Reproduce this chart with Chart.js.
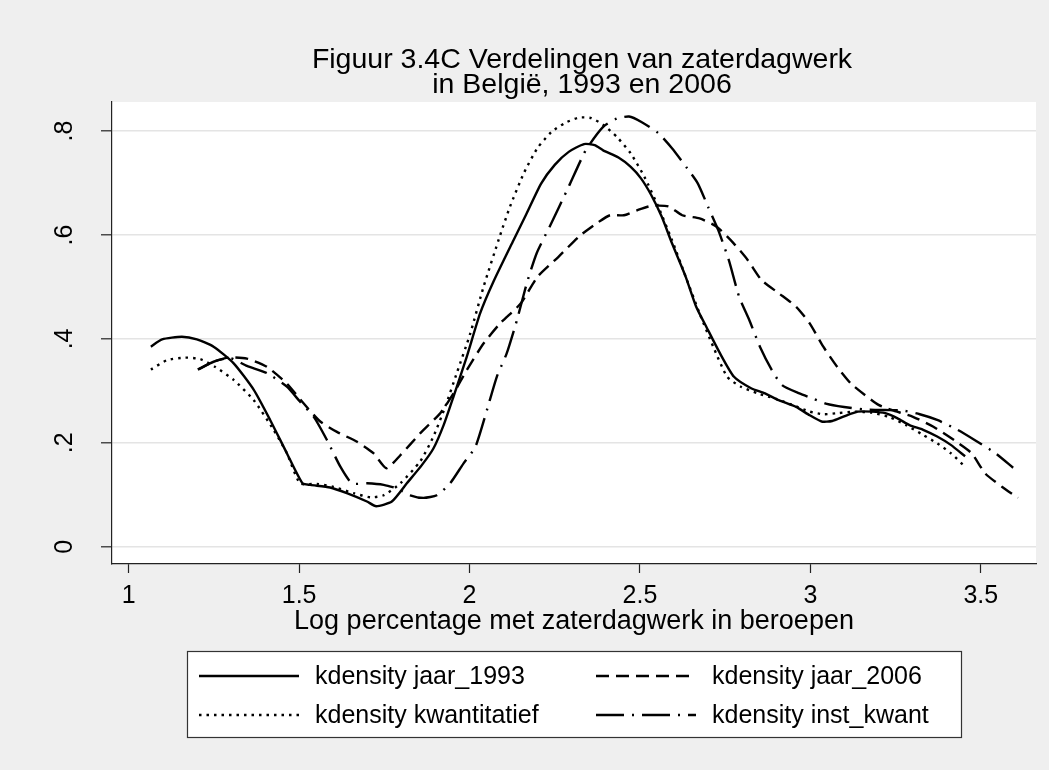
<!DOCTYPE html>
<html>
<head>
<meta charset="utf-8">
<title>Verdelingen van zaterdagwerk</title>
<script src="https://cdn.jsdelivr.net/npm/chart.js@4/dist/chart.umd.min.js"></script>
<style>
  html, body { margin: 0; padding: 0; background: #efefef; }
  #wrap { width: 1049px; height: 770px; }
</style>
</head>
<body>
<div id="wrap"><canvas id="chart" width="1049" height="770"></canvas></div>
<script>
// kernel density estimates, log share of saturday work per occupation
const x1993 = [1.065, 1.098, 1.156, 1.20, 1.249, 1.308, 1.367, 1.415, 1.464, 1.510, 1.533, 1.591, 1.640, 1.699, 1.726, 1.772, 1.816, 1.860, 1.894, 1.924, 1.953, 1.992, 2.031, 2.070, 2.129, 2.165, 2.210, 2.250, 2.291, 2.336, 2.367, 2.392, 2.437, 2.473, 2.503, 2.533, 2.564, 2.594, 2.634, 2.665, 2.695, 2.735, 2.776, 2.826, 2.867, 2.907, 2.958, 2.998, 3.033, 3.064, 3.099, 3.139, 3.180, 3.220, 3.256, 3.291, 3.331, 3.372, 3.412, 3.454];
const y1993 = [0.385, 0.399, 0.404, 0.399, 0.385, 0.353, 0.302, 0.244, 0.180, 0.122, 0.119, 0.114, 0.103, 0.087, 0.078, 0.087, 0.122, 0.157, 0.189, 0.234, 0.289, 0.366, 0.449, 0.510, 0.590, 0.638, 0.699, 0.735, 0.760, 0.775, 0.773, 0.763, 0.749, 0.731, 0.709, 0.677, 0.635, 0.584, 0.520, 0.462, 0.423, 0.372, 0.327, 0.305, 0.295, 0.282, 0.269, 0.253, 0.241, 0.242, 0.251, 0.260, 0.260, 0.257, 0.247, 0.234, 0.225, 0.212, 0.196, 0.174];

const x2006 = [1.203, 1.249, 1.293, 1.347, 1.406, 1.464, 1.513, 1.562, 1.611, 1.670, 1.718, 1.756, 1.797, 1.855, 1.914, 1.953, 1.992, 2.041, 2.090, 2.150, 2.200, 2.261, 2.321, 2.372, 2.412, 2.453, 2.493, 2.533, 2.584, 2.624, 2.675, 2.725, 2.775, 2.816, 2.857, 2.907, 2.958, 2.998, 3.038, 3.079, 3.119, 3.160, 3.200, 3.240, 3.301, 3.361, 3.422, 3.473, 3.513, 3.563, 3.609];
const y2006 = [0.341, 0.356, 0.364, 0.362, 0.346, 0.314, 0.276, 0.241, 0.221, 0.202, 0.180, 0.151, 0.176, 0.218, 0.257, 0.295, 0.340, 0.391, 0.430, 0.468, 0.520, 0.558, 0.597, 0.622, 0.638, 0.638, 0.648, 0.656, 0.655, 0.638, 0.632, 0.616, 0.584, 0.552, 0.513, 0.488, 0.462, 0.430, 0.385, 0.346, 0.314, 0.292, 0.273, 0.263, 0.250, 0.231, 0.205, 0.180, 0.141, 0.115, 0.094];

const xKwant = [1.065, 1.112, 1.166, 1.210, 1.254, 1.308, 1.367, 1.425, 1.464, 1.503, 1.552, 1.601, 1.660, 1.709, 1.748, 1.797, 1.855, 1.894, 1.929, 1.963, 2.002, 2.041, 2.090, 2.119, 2.160, 2.200, 2.240, 2.281, 2.321, 2.357, 2.392, 2.432, 2.473, 2.513, 2.554, 2.594, 2.634, 2.675, 2.715, 2.756, 2.796, 2.846, 2.897, 2.947, 2.998, 3.038, 3.079, 3.129, 3.180, 3.230, 3.281, 3.331, 3.372, 3.412, 3.454];
const yKwant = [0.341, 0.359, 0.364, 0.361, 0.346, 0.321, 0.282, 0.225, 0.180, 0.122, 0.121, 0.115, 0.103, 0.095, 0.099, 0.122, 0.164, 0.212, 0.270, 0.335, 0.410, 0.500, 0.600, 0.655, 0.720, 0.768, 0.798, 0.816, 0.826, 0.825, 0.812, 0.789, 0.757, 0.712, 0.654, 0.590, 0.520, 0.449, 0.385, 0.327, 0.308, 0.295, 0.285, 0.273, 0.260, 0.255, 0.257, 0.260, 0.258, 0.250, 0.234, 0.215, 0.199, 0.180, 0.154];

const xInst = [1.203, 1.249, 1.298, 1.347, 1.406, 1.464, 1.503, 1.543, 1.582, 1.621, 1.655, 1.699, 1.748, 1.787, 1.826, 1.865, 1.904, 1.943, 1.982, 2.017, 2.051, 2.080, 2.109, 2.139, 2.168, 2.197, 2.235, 2.291, 2.341, 2.392, 2.432, 2.468, 2.503, 2.554, 2.594, 2.639, 2.670, 2.700, 2.730, 2.761, 2.791, 2.821, 2.852, 2.887, 2.917, 2.968, 3.008, 3.048, 3.099, 3.160, 3.220, 3.271, 3.321, 3.372, 3.432, 3.483, 3.543, 3.595];
const yInst = [0.341, 0.356, 0.363, 0.348, 0.334, 0.308, 0.279, 0.250, 0.205, 0.154, 0.122, 0.122, 0.119, 0.112, 0.099, 0.094, 0.099, 0.122, 0.160, 0.192, 0.263, 0.327, 0.372, 0.436, 0.507, 0.565, 0.616, 0.693, 0.763, 0.808, 0.824, 0.828, 0.818, 0.796, 0.767, 0.728, 0.699, 0.654, 0.609, 0.551, 0.481, 0.436, 0.385, 0.340, 0.311, 0.295, 0.285, 0.275, 0.269, 0.264, 0.263, 0.262, 0.255, 0.244, 0.225, 0.205, 0.180, 0.152];

const seriesLabels = ["kdensity jaar_1993", "kdensity jaar_2006", "kdensity kwantitatief", "kdensity inst_kwant"];
const xTicks = [1, 1.5, 2, 2.5, 3, 3.5];
const yTicks = [0, 0.2, 0.4, 0.6, 0.8];
const titleLines = ["Figuur 3.4C Verdelingen van zaterdagwerk", "in België, 1993 en 2006"];
const xTitle = "Log percentage met zaterdagwerk in beroepen";

const FONT = "'Liberation Sans', Arial, Helvetica, sans-serif";

function toPoints(xs, ys) {
    return xs.map((x, i) => ({ x: x, y: ys[i] }));
}

// gray page, white plot region
const backdrop = {
    id: "backdrop",
    beforeDraw(chart) {
        const { ctx, chartArea: a } = chart;
        ctx.save();
        ctx.fillStyle = "#efefef";
        ctx.fillRect(0, 0, chart.width, chart.height);
        ctx.fillStyle = "#ffffff";
        ctx.fillRect(a.left, a.top, a.right - a.left, a.bottom - a.top);
        ctx.restore();
    }
};

// center the title over the plot region instead of the whole canvas
const titleOverPlot = {
    id: "titleOverPlot",
    afterLayout(chart) {
        const t = chart.titleBlock;
        if (t) {
            t.left = chart.chartArea.left + 8;
            t.right = chart.chartArea.right + 8;
        }
    }
};

// boxed two-column legend under the axis title
const boxLegend = {
    id: "boxLegend",
    afterDraw(chart) {
        const { ctx, chartArea: a } = chart;
        const cx = (a.left + a.right) / 2;
        const boxW = 774, boxTop = 651, boxH = 86;
        const left = cx - boxW / 2;
        ctx.save();
        ctx.fillStyle = "#ffffff";
        ctx.fillRect(left, boxTop, boxW, boxH);
        ctx.strokeStyle = "#333333";
        ctx.lineWidth = 1.2;
        ctx.strokeRect(left + 0.5, boxTop + 0.5, boxW, boxH);

        const rowY = [boxTop + 25, boxTop + 64];
        const colX = [left + 12, left + 409];
        ctx.font = "25px " + FONT;
        ctx.textBaseline = "middle";
        ctx.fillStyle = "#000000";
        chart.data.datasets.forEach((ds, i) => {
            const x = colX[i % 2];
            const y = rowY[Math.floor(i / 2)];
            ctx.beginPath();
            ctx.setLineDash(ds.borderDash || []);
            ctx.lineWidth = ds.borderWidth;
            ctx.strokeStyle = ds.borderColor;
            ctx.moveTo(x, y);
            ctx.lineTo(x + 100, y);
            ctx.stroke();
            ctx.setLineDash([]);
            ctx.fillText(ds.label, x + 116, y + 1);
        });
        ctx.restore();
    }
};

function lineSet(label, xs, ys, dash) {
    return {
        label: label,
        data: toPoints(xs, ys),
        borderColor: "#000000",
        borderWidth: 2.4,
        borderDash: dash,
        pointRadius: 0,
        fill: false,
        tension: 0.2
    };
}

const ctx = document.getElementById("chart").getContext("2d");
new Chart(ctx, {
    type: "line",
    data: {
        datasets: [
            lineSet(seriesLabels[0], x1993, y1993, []),
            lineSet(seriesLabels[1], x2006, y2006, [13, 7]),
            lineSet(seriesLabels[2], xKwant, yKwant, [2.5, 5]),
            lineSet(seriesLabels[3], xInst, yInst, [28, 8, 2, 8])
        ]
    },
    options: {
        responsive: false,
        animation: false,
        layout: { padding: { left: 0, right: 13, top: 0, bottom: 132 } },
        plugins: {
            legend: { display: false },
            tooltip: { enabled: false },
            title: {
                display: true,
                text: titleLines,
                color: "#000000",
                font: { family: FONT, size: 28.5, weight: "normal", lineHeight: "25px" },
                padding: { top: 48, bottom: 4 }
            }
        },
        scales: {
            x: {
                type: "linear",
                min: 0.951,
                max: 3.662,
                afterBuildTicks: (scale) => { scale.ticks = xTicks.map(v => ({ value: v })); },
                afterFit: (scale) => { scale.height = 74; },
                grid: { drawOnChartArea: false, drawTicks: true, tickLength: 9, tickColor: "#222222", tickWidth: 1.2 },
                border: { display: true, color: "#222222", width: 1.2 },
                ticks: {
                    color: "#000000",
                    padding: 8,
                    maxRotation: 0,
                    font: { family: FONT, size: 25 },
                    callback: (v) => String(v)
                },
                title: {
                    display: true,
                    text: xTitle,
                    color: "#000000",
                    font: { family: FONT, size: 27 },
                    padding: { top: 0, bottom: 0 }
                }
            },
            y: {
                type: "linear",
                min: -0.0333,
                max: 0.856,
                afterBuildTicks: (scale) => { scale.ticks = yTicks.map(v => ({ value: v })); },
                afterFit: (scale) => { scale.width = 112; },
                grid: { color: "#e4e4e4", lineWidth: 1.6, drawTicks: true, tickLength: 11, tickColor: "#222222", tickWidth: 1.2 },
                border: { display: true, color: "#222222", width: 1.2 },
                ticks: {
                    color: "#000000",
                    padding: 25,
                    minRotation: 90,
                    maxRotation: 90,
                    crossAlign: "center",
                    font: { family: FONT, size: 25 },
                    callback: (v) => (v === 0 ? "0" : String(v).replace("0.", "."))
                }
            }
        }
    },
    plugins: [backdrop, titleOverPlot, boxLegend]
});
</script>
</body>
</html>
